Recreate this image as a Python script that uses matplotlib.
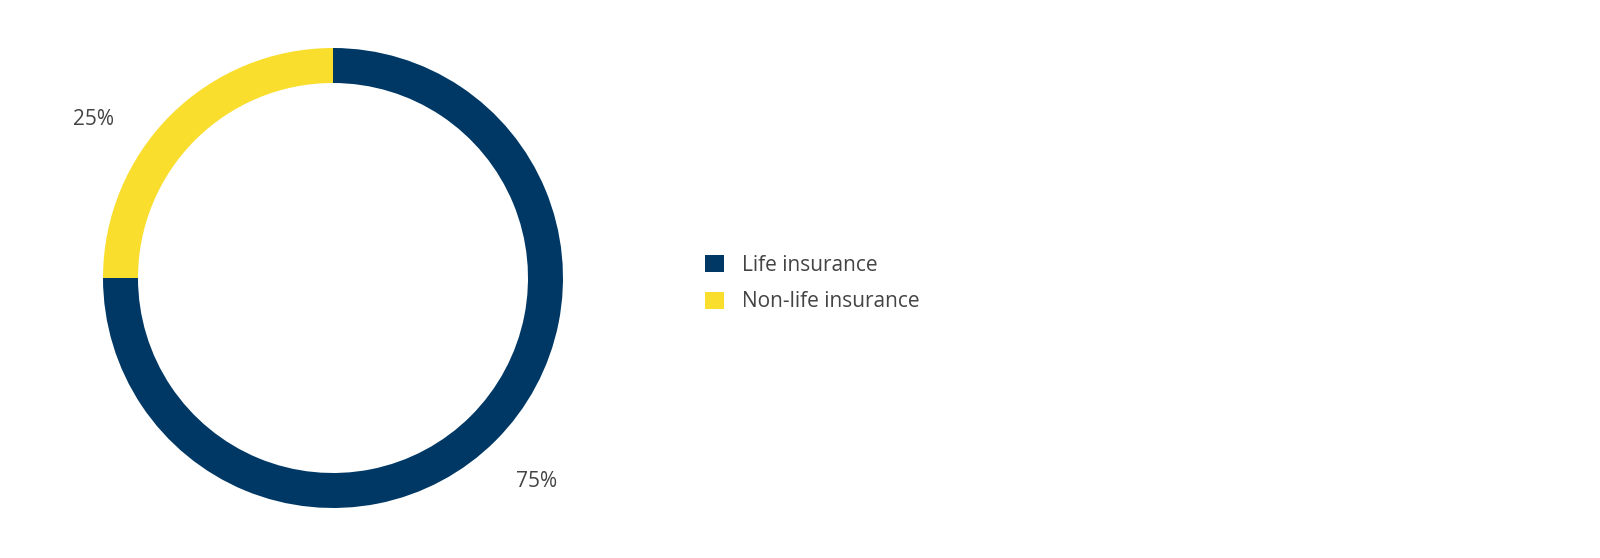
import matplotlib
matplotlib.use("Agg")
import matplotlib.pyplot as plt
from matplotlib.patches import Patch

labels = ["Life insurance", "Non-life insurance"]
shares = [75, 25]
colors = ["#003865", "#F9DE2E"]

plt.rcParams["font.family"] = ["Open Sans", "DejaVu Sans"]
text_color = "#444444"

fig = plt.figure(figsize=(16, 5.58), dpi=100)
# donut centred at (333, 278) px, outer radius 230 px
ax = fig.add_axes([103 / 1600, 50 / 558, 460 / 1600, 460 / 558])
ax.pie(shares, colors=colors, startangle=90, counterclock=False,
       radius=1.0, wedgeprops=dict(width=35 / 230, linewidth=0))
ax.set_xlim(-1, 1)
ax.set_ylim(-1, 1)
ax.set_aspect("equal")
ax.axis("off")

ax.text(-1.04, 0.687, f"{shares[1]}%", fontsize=15, color=text_color,
        ha="center", va="center", clip_on=False)
ax.text(0.887, -0.883, f"{shares[0]}%", fontsize=15, color=text_color,
        ha="center", va="center", clip_on=False)

handles = [Patch(facecolor=c, edgecolor="none") for c in colors]
fig.legend(handles, labels, loc="upper left",
           bbox_to_anchor=(686 / 1600, (558 - 236) / 558),
           frameon=False, fontsize=15, labelcolor=text_color,
           handlelength=0.9, handleheight=0.9, handletextpad=0.9,
           labelspacing=0.75)

fig.savefig("out.png", dpi=100)
